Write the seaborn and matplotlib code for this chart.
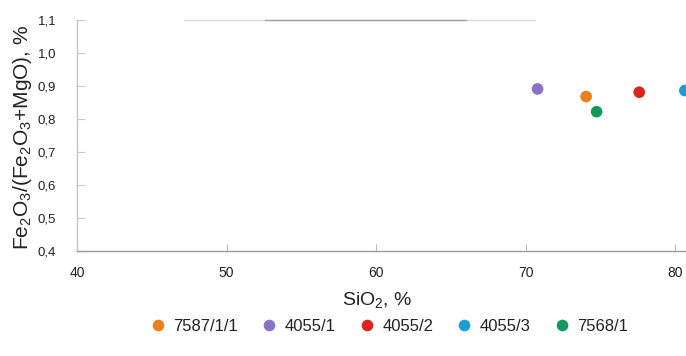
import matplotlib
matplotlib.use("Agg")
import matplotlib.pyplot as plt
import seaborn as sns
import pandas as pd

# Sample data: SiO2 content vs Fe2O3/(Fe2O3+MgO) ratio
samples = ["7587/1/1", "4055/1", "4055/2", "4055/3", "7568/1"]
sio2 = [74.05, 70.8, 77.6, 80.65, 74.75]
fe_ratio = [0.868, 0.891, 0.881, 0.886, 0.822]
colors = ["#EE7F1B", "#8B73C4", "#D9261C", "#199FD6", "#0F9A5A"]

x_ticks = [40, 50, 60, 70, 80]
y_ticks = [0.4, 0.5, 0.6, 0.7, 0.8, 0.9, 1.0, 1.1]

sns.set_theme(style="white")
plt.rcParams["font.family"] = ["Liberation Sans", "DejaVu Sans"]
plt.rcParams["mathtext.default"] = "regular"

df = pd.DataFrame({"sample": samples, "SiO2": sio2, "ratio": fe_ratio})

fig = plt.figure(figsize=(6.86, 3.56), dpi=100)
ax = fig.add_axes([0.1122, 0.295, 0.9155, 0.649])

sns.scatterplot(data=df, x="SiO2", y="ratio", hue="sample", hue_order=samples,
                palette=colors, s=70, edgecolor="none", linewidth=0, ax=ax,
                legend=True, clip_on=False, zorder=5)

ax.set_xlim(40, 82)
ax.set_ylim(0.4, 1.1)
ax.set_xticks(x_ticks)
ax.set_xticklabels([str(v) for v in x_ticks], fontsize=10, color="#222222")
ax.set_yticks(y_ticks)
ax.set_yticklabels([f"{v:.1f}".replace(".", ",") for v in y_ticks],
                   fontsize=9.5, color="#222222")
ax.tick_params(axis="x", direction="in", length=5, width=0.8, color="#bbbbbb", pad=11,
               bottom=True)
ax.tick_params(axis="y", direction="in", length=6, width=0.8, color="#cccccc", pad=15,
               left=True)

for side in ["top", "right"]:
    ax.spines[side].set_visible(False)
ax.spines["left"].set_color("#c4c4c4")
ax.spines["left"].set_linewidth(1.0)
ax.spines["bottom"].set_color("#9a9a9a")
ax.spines["bottom"].set_linewidth(1.0)

# faint upper frame line
ax.axhline(1.1, xmin=0.17, xmax=0.73, color="#dadada", lw=1.0, clip_on=False)
ax.axhline(1.1, xmin=0.30, xmax=0.62, color="#a4a4a4", lw=1.0, clip_on=False)

ax.set_xlabel("SiO$_2$, %", fontsize=14, color="#222222")
ax.xaxis.set_label_coords(0.478, -0.17)
ax.set_ylabel("Fe$_2$O$_3$/(Fe$_2$O$_3$+MgO), %", fontsize=15, color="#222222")
ax.yaxis.set_label_coords(-0.068, 0.49)

handles, labels = ax.get_legend_handles_labels()
ax.legend(handles, labels, loc="center", bbox_to_anchor=(0.568, 0.082),
          bbox_transform=fig.transFigure, ncol=5, frameon=False, fontsize=12,
          handlelength=0.8, handletextpad=0.55, columnspacing=1.45,
          markerscale=1.0, labelcolor="#222222")

fig.savefig("out.png", dpi=100)
